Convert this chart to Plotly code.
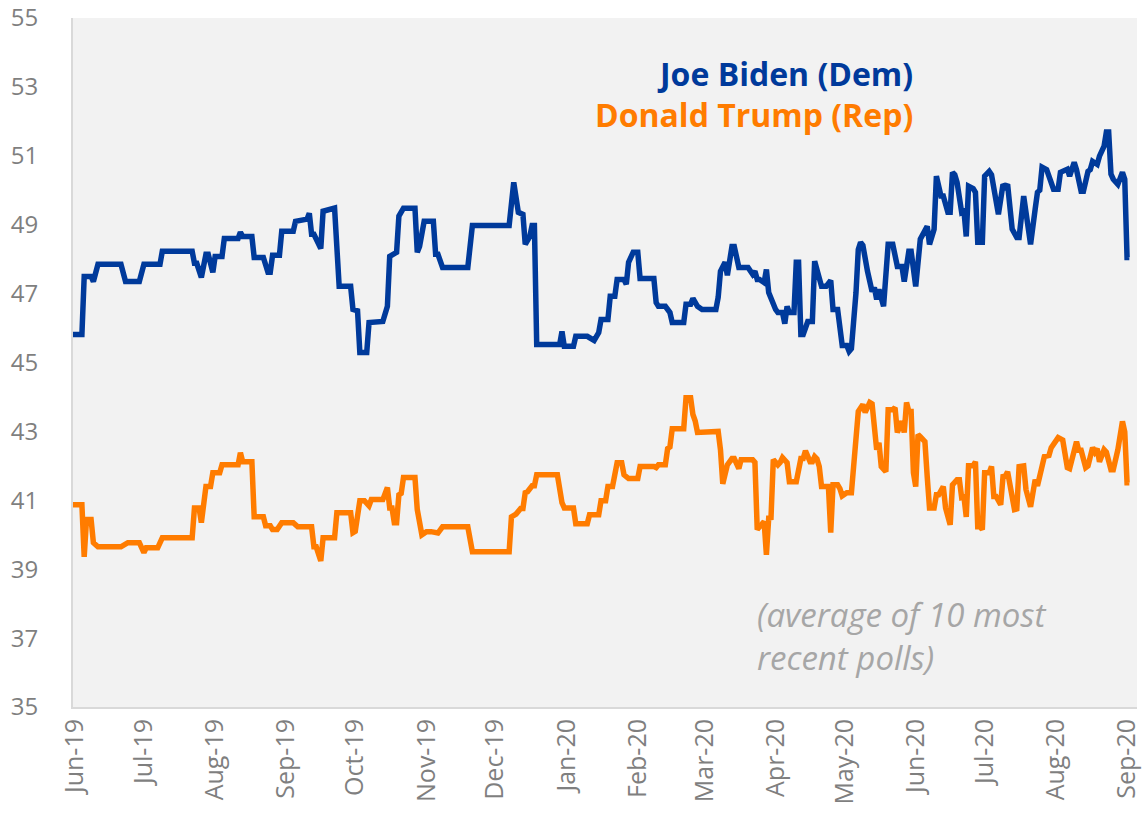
import datetime as dt
import plotly.graph_objects as go

# Days since 1 Jun 2019 and poll-average values
biden_day = [-1, 3, 4, 7, 8, 10, 20, 22, 28, 30, 37, 38, 51, 52, 53, 55, 57, 58, 60, 61, 64, 65, 71, 72, 73, 77, 78, 82, 84, 85,
             86, 89, 90, 95, 96, 101, 102, 103, 104, 107, 108, 113, 115, 120, 121, 123, 124, 127, 128, 134, 136, 137, 140, 141,
             143, 148, 149, 150, 152, 156, 157, 158, 160, 171, 173, 189, 191, 193, 195, 196, 198, 199, 200, 201, 211, 212, 213,
             217, 218, 223, 226, 228, 229, 232, 233, 235, 236, 239, 240, 241, 243, 245, 246, 252, 253, 254, 257, 259, 260, 265,
             266, 268, 269, 271, 273, 279, 280, 281, 283, 284, 286, 287, 289, 293, 295, 296, 297, 298, 300, 301, 302, 303, 305,
             306, 308, 309, 310, 311, 313, 314, 315, 316, 317, 319, 321, 322, 324, 325, 327, 329, 330, 332, 334, 336, 337, 338,
             340, 341, 342, 343, 345, 347, 348, 349, 350, 352, 354, 356, 358, 360, 361, 363, 364, 366, 368, 369, 371, 372, 374,
             375, 377, 378, 380, 381, 382, 383, 384, 386, 387, 388, 389, 391, 392, 393, 395, 396, 398, 399, 401, 402, 404, 405,
             406, 408, 410, 411, 413, 414, 416, 418, 419, 420, 421, 423, 426, 428, 429, 432, 433, 435, 436, 438, 439, 441, 442,
             443, 445, 446, 448, 449, 450, 451, 452, 454, 455, 456, 457, 458, 459]
biden_val = [45.81, 45.81, 47.5, 47.5, 47.35, 47.85, 47.85, 47.35, 47.35, 47.85, 47.85, 48.23, 48.23, 47.88, 47.88, 47.47,
             48.14, 48.14, 47.62, 48.08, 48.08, 48.6, 48.6, 48.78, 48.66, 48.66, 48.05, 48.05, 47.62, 47.62, 48.11, 48.11,
             48.81, 48.81, 49.1, 49.16, 49.33, 48.72, 48.72, 48.31, 49.39, 49.48, 47.21, 47.21, 46.54, 46.5, 45.29, 45.29,
             46.16, 46.19, 46.63, 48.08, 48.2, 49.25, 49.48, 49.48, 48.2, 48.37, 49.1, 49.1, 48.14, 48.14, 47.76, 47.76, 48.98,
             48.98, 50.23, 49.36, 49.3, 48.43, 48.66, 48.98, 48.98, 45.52, 45.52, 45.9, 45.47, 45.47, 45.76, 45.76, 45.64,
             45.87, 46.25, 46.25, 46.92, 46.92, 47.41, 47.41, 47.27, 47.91, 48.2, 48.2, 47.44, 47.44, 46.74, 46.63, 46.63,
             46.45, 46.16, 46.16, 46.69, 46.69, 46.86, 46.63, 46.54, 46.54, 46.89, 47.65, 47.91, 47.53, 48.37, 48.37, 47.76,
             47.76, 47.56, 47.65, 47.41, 47.41, 47.32, 47.7, 47.03, 46.83, 46.54, 46.45, 46.45, 46.13, 46.63, 46.45, 46.45,
             47.91, 47.91, 45.81, 45.81, 46.19, 46.19, 47.94, 47.47, 47.21, 47.21, 47.38, 46.54, 46.54, 45.49, 45.49, 45.32,
             45.4, 47.03, 48.28, 48.49, 48.4, 47.65, 47.06, 47.18, 46.83, 47.12, 46.63, 48.43, 48.43, 47.79, 47.79, 47.35,
             48.23, 48.23, 47.21, 48.58, 48.72, 48.95, 48.43, 48.87, 50.41, 49.83, 49.83, 49.36, 49.36, 50.52, 50.45, 50.23,
             49.36, 49.4, 48.66, 50.12, 50.05, 49.94, 48.49, 48.49, 50.41, 50.55, 50.45, 49.51, 49.3, 50.17, 50.1, 50.17,
             48.87, 48.63, 48.63, 49.83, 49.3, 48.43, 49.45, 49.94, 50.0, 50.67, 50.6, 50.03, 50.03, 50.52, 50.61, 50.41,
             50.81, 50.6, 49.97, 49.97, 50.55, 50.6, 50.84, 50.75, 50.99, 51.28, 51.69, 51.69, 50.47, 50.32, 50.17, 50.41,
             50.52, 50.32, 48.05, 48.05]

trump_day = [-1, 3, 4, 5, 7, 8, 10, 20, 23, 28, 30, 31, 36, 38, 51, 52, 54, 55, 57, 59, 60, 63, 64, 71, 72, 73, 77, 78, 82, 83,
             85, 86, 88, 90, 95, 97, 103, 104, 105, 107, 108, 113, 114, 120, 121, 122, 124, 126, 128, 129, 134, 136, 137, 138,
             139, 140, 141, 142, 143, 148, 149, 151, 153, 155, 158, 160, 171, 173, 189, 190, 192, 194, 195, 196, 197, 199, 200,
             201, 210, 212, 213, 217, 218, 223, 224, 228, 229, 231, 232, 234, 236, 238, 239, 241, 245, 246, 252, 253, 254, 257,
             258, 259, 260, 265, 266, 268, 269, 270, 271, 279, 280, 281, 282, 284, 286, 287, 289, 290, 295, 296, 297, 298, 300,
             301, 302, 303, 304, 306, 307, 308, 310, 311, 314, 316, 317, 318, 320, 321, 322, 323, 324, 325, 328, 329, 330, 332,
             333, 334, 336, 338, 339, 340, 341, 343, 344, 346, 347, 349, 350, 351, 353, 354, 356, 357, 358, 360, 361, 362, 363,
             364, 365, 366, 367, 368, 370, 371, 372, 374, 375, 376, 378, 379, 381, 382, 384, 385, 386, 387, 388, 389, 391, 392,
             393, 394, 395, 396, 398, 399, 400, 401, 403, 404, 405, 406, 408, 409, 410, 411, 413, 414, 416, 418, 419, 421, 422,
             424, 425, 428, 430, 432, 433, 434, 436, 437, 438, 440, 441, 443, 444, 445, 446, 448, 449, 451, 452, 454, 455, 456,
             457, 458, 459]
trump_val = [40.87, 40.87, 39.36, 40.44, 40.44, 39.77, 39.65, 39.65, 39.77, 39.77, 39.48, 39.62, 39.62, 39.91, 39.91, 40.78,
             40.78, 40.35, 41.4, 41.4, 41.8, 41.8, 42.03, 42.03, 42.38, 42.12, 42.12, 40.52, 40.52, 40.26, 40.26, 40.15,
             40.15, 40.35, 40.35, 40.23, 40.23, 39.65, 39.65, 39.24, 39.91, 39.91, 40.64, 40.64, 40.06, 40.1, 40.99, 40.99,
             40.84, 41.02, 41.02, 41.37, 40.78, 40.78, 40.35, 40.35, 41.16, 41.2, 41.66, 41.66, 40.73, 40.0, 40.09, 40.09,
             40.05, 40.23, 40.23, 39.51, 39.51, 40.52, 40.6, 40.76, 40.76, 41.22, 41.25, 41.42, 41.42, 41.74, 41.74, 40.93,
             40.78, 40.78, 40.32, 40.32, 40.58, 40.58, 40.99, 40.99, 41.4, 41.4, 42.09, 42.09, 41.74, 41.63, 41.63, 41.98,
             41.98, 41.95, 42.03, 42.03, 42.5, 42.55, 43.08, 43.08, 43.98, 43.98, 43.49, 43.3, 42.97, 42.97, 43.0, 42.47,
             41.48, 42.03, 42.21, 42.21, 41.92, 42.18, 42.18, 42.1, 40.15, 40.23, 40.38, 39.42, 40.49, 40.5, 42.18, 42.03,
             42.1, 42.24, 42.09, 41.54, 41.54, 42.21, 42.21, 42.44, 42.12, 42.12, 42.27, 42.2, 41.98, 41.4, 41.4, 40.06,
             41.45, 41.45, 41.34, 41.13, 41.22, 41.22, 42.09, 42.76, 43.58, 43.78, 43.55, 43.84, 43.8, 42.47, 42.67, 41.98,
             41.83, 43.63, 43.63, 43.69, 42.97, 43.29, 42.97, 43.84, 43.58, 43.58, 41.8, 41.4, 42.91, 42.85, 42.7, 41.69,
             40.78, 40.78, 41.16, 41.16, 41.4, 40.78, 40.29, 41.45, 41.6, 41.6, 41.08, 41.1, 40.52, 42.0, 42.0, 42.12, 40.23,
             40.23, 40.15, 41.8, 41.8, 41.98, 41.11, 41.11, 40.87, 41.69, 41.7, 41.83, 41.11, 40.73, 40.75, 41.98, 42.0,
             41.31, 40.81, 41.6, 41.42, 42.03, 42.27, 42.3, 42.53, 42.82, 42.75, 41.95, 41.92, 42.18, 42.7, 42.45, 42.45,
             41.95, 42.0, 42.53, 42.4, 42.5, 42.12, 42.47, 42.4, 41.89, 41.89, 42.47, 42.97, 43.29, 42.99, 41.51, 41.51]

tick_months = ["2019-06-01", "2019-07-01", "2019-08-01", "2019-09-01", "2019-10-01", "2019-11-01", "2019-12-01",
               "2020-01-01", "2020-02-01", "2020-03-01", "2020-04-01", "2020-05-01", "2020-06-01", "2020-07-01",
               "2020-08-01", "2020-09-01"]
tick_labels = ["Jun-19", "Jul-19", "Aug-19", "Sep-19", "Oct-19", "Nov-19", "Dec-19", "Jan-20", "Feb-20", "Mar-20",
               "Apr-20", "May-20", "Jun-20", "Jul-20", "Aug-20", "Sep-20"]
y_ticks = [35, 37, 39, 41, 43, 45, 47, 49, 51, 53, 55]

start = dt.datetime(2019, 6, 1)
biden_dates = [start + dt.timedelta(days=d) for d in biden_day]
trump_dates = [start + dt.timedelta(days=d) for d in trump_day]

BLUE = "#003A9B"
ORANGE = "#FF7C00"

fig = go.Figure()
fig.add_trace(go.Scatter(x=trump_dates, y=trump_val, mode="lines", name="Donald Trump (Rep)",
                         line=dict(color=ORANGE, width=5.5)))
fig.add_trace(go.Scatter(x=biden_dates, y=biden_val, mode="lines", name="Joe Biden (Dem)",
                         line=dict(color=BLUE, width=5.5)))

fig.update_layout(
    width=1142, height=826,
    margin=dict(l=73, r=5, t=18, b=119),
    paper_bgcolor="white",
    plot_bgcolor="#F2F2F2",
    showlegend=False,
    font=dict(family="Open Sans", color="#7F7F7F"),
    xaxis=dict(
        type="date",
        range=["2019-05-31 03:00", "2020-09-05 08:00"],
        tickvals=tick_months, ticktext=tick_labels,
        tickangle=-90, tickfont=dict(size=25, color="#7F7F7F"),
        showgrid=False, zeroline=False, automargin=False,
        ticklabeloverflow="allow",
        showline=True, linecolor="#D9D9D9", linewidth=2,
        ticks="",
    ),
    yaxis=dict(
        range=[35, 55], tickvals=y_ticks,
        tickfont=dict(size=24, color="#7F7F7F"),
        showgrid=False, zeroline=False, automargin=False,
        ticklabeloverflow="allow",
        showline=True, linecolor="#D9D9D9", linewidth=2,
        ticks="", ticklabelstandoff=28,
    ),
    annotations=[
        dict(text="<b>Joe Biden (Dem)</b>", xref="paper", yref="paper", x=0.791, y=0.92,
             xanchor="right", yanchor="middle", showarrow=False,
             font=dict(size=32, color=BLUE, family="Open Sans")),
        dict(text="<b>Donald Trump (Rep)</b>", xref="paper", yref="paper", x=0.791, y=0.86,
             xanchor="right", yanchor="middle", showarrow=False,
             font=dict(size=32, color=ORANGE, family="Open Sans")),
        dict(text="<i>(average of 10 most<br>recent polls)</i>", xref="paper", yref="paper", x=0.641, y=0.103,
             xanchor="left", yanchor="middle", align="left", showarrow=False,
             font=dict(size=33, color="#A6A6A6", family="Open Sans")),
    ],
)

# remove the browser's default 8px page margin so the figure fills the window exactly
fig.write_html("out.html", config={"displayModeBar": False},
               post_script="document.body.style.margin='0';")
